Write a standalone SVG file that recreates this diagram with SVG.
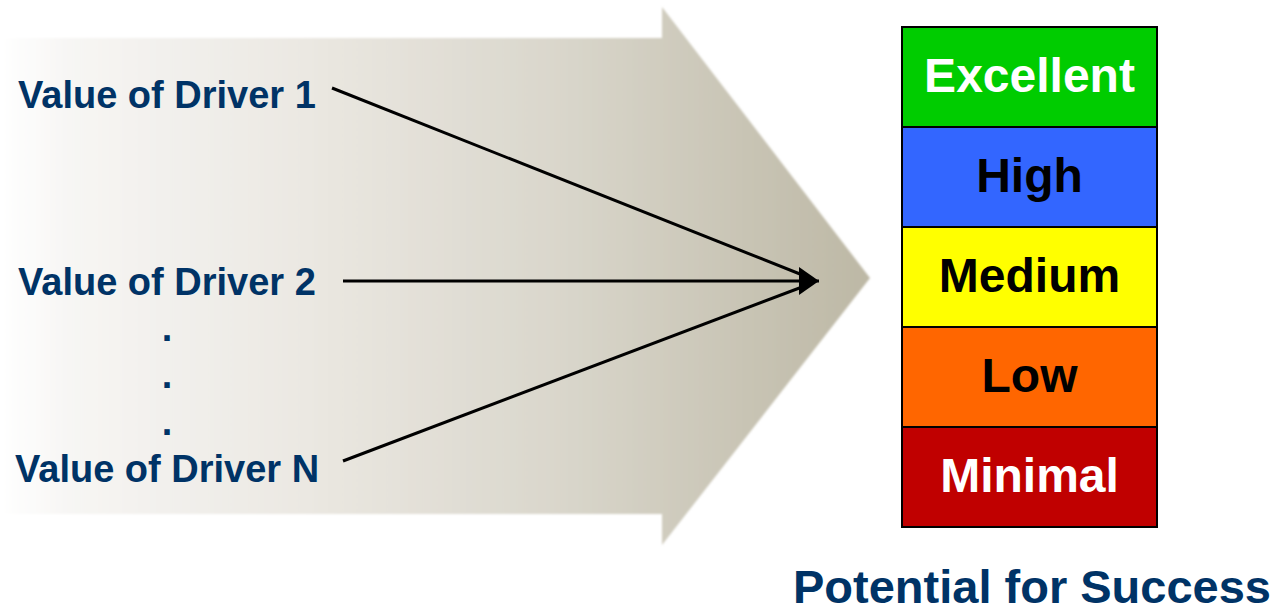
<svg xmlns="http://www.w3.org/2000/svg" width="1281" height="613" viewBox="0 0 1281 613">
  <defs>
    <linearGradient id="bodyGrad" gradientUnits="userSpaceOnUse" x1="0" y1="0" x2="870" y2="0">
      <stop offset="0" stop-color="#ffffff"/>
      <stop offset="0.08" stop-color="#f7f6f4"/>
      <stop offset="0.35" stop-color="#ebe8e2"/>
      <stop offset="0.65" stop-color="#d9d6cb"/>
      <stop offset="1" stop-color="#bdb8a5"/>
    </linearGradient>
    <filter id="soft" x="-2%" y="-2%" width="104%" height="104%">
      <feGaussianBlur stdDeviation="1.2"/>
    </filter>
    <marker id="head" markerUnits="userSpaceOnUse" markerWidth="22" markerHeight="30" refX="20" refY="15" orient="auto">
      <path d="M0,1 L20,15 L0,29 Z" fill="#000"/>
    </marker>
  </defs>
  <style>
    .drv { font-family: "Liberation Sans", Arial, sans-serif; font-weight: bold; font-size: 38px; fill: #003366; }
    .lvl { font-family: "Liberation Sans", Arial, sans-serif; font-weight: bold; font-size: 48px; text-anchor: middle; }
    .box { stroke: #000; stroke-width: 2; }
    .conn { stroke: #000; stroke-width: 3; fill: none; }
  </style>
  <rect width="1281" height="613" fill="#ffffff"/>

  <g id="big-arrow">
    <polygon points="0,38 662,38 662,7 870,278 662,545 662,514 0,514" fill="url(#bodyGrad)" filter="url(#soft)"/>
  </g>

  <g id="driver-1"><text class="drv" x="18" y="108">Value of Driver 1</text></g>
  <g id="driver-2"><text class="drv" x="18" y="295">Value of Driver 2</text></g>
  <g id="dots">
    <text class="drv" x="167" y="341" text-anchor="middle">.</text>
    <text class="drv" x="167" y="388" text-anchor="middle">.</text>
    <text class="drv" x="167" y="435" text-anchor="middle">.</text>
  </g>
  <g id="driver-n"><text class="drv" x="15" y="482">Value of Driver N</text></g>

  <g id="connectors">
    <line class="conn" x1="332" y1="88" x2="810" y2="278"/>
    <line class="conn" x1="343" y1="461" x2="810" y2="284"/>
    <line class="conn" x1="343" y1="281" x2="819" y2="281" marker-end="url(#head)"/>
  </g>

  <g id="level-excellent">
    <rect class="box" x="902" y="27" width="255" height="100" fill="#00cc00"/>
    <text class="lvl" x="1029.5" y="92" fill="#ffffff">Excellent</text>
  </g>
  <g id="level-high">
    <rect class="box" x="902" y="127" width="255" height="100" fill="#3366ff"/>
    <text class="lvl" x="1029.5" y="192" fill="#000000">High</text>
  </g>
  <g id="level-medium">
    <rect class="box" x="902" y="227" width="255" height="100" fill="#ffff00"/>
    <text class="lvl" x="1029.5" y="292" fill="#000000">Medium</text>
  </g>
  <g id="level-low">
    <rect class="box" x="902" y="327" width="255" height="100" fill="#ff6600"/>
    <text class="lvl" x="1029.5" y="392" fill="#000000">Low</text>
  </g>
  <g id="level-minimal">
    <rect class="box" x="902" y="427" width="255" height="100" fill="#c00000"/>
    <text class="lvl" x="1029.5" y="492" fill="#ffffff">Minimal</text>
  </g>

  <g id="caption">
    <text x="1032" y="603" font-family="Liberation Sans, Arial, sans-serif" font-weight="bold" font-size="47" fill="#003366" text-anchor="middle">Potential for Success</text>
  </g>
</svg>
